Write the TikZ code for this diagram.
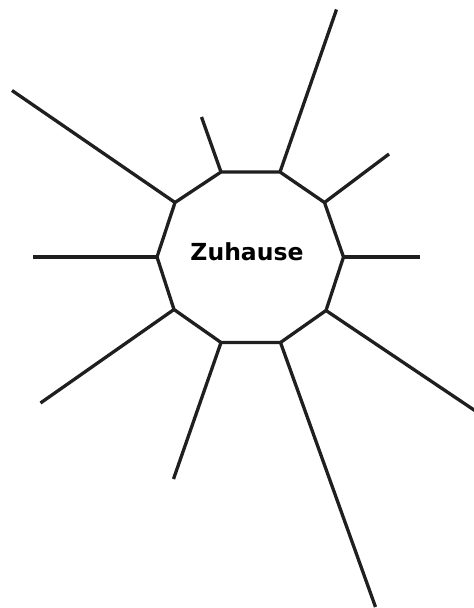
\documentclass[tikz,border=0pt]{standalone}
\usepackage{fontspec}
\setmainfont{DejaVu Sans}
\begin{document}
\begin{tikzpicture}[x=1pt,y=-1pt,
  edge/.style={draw=black!88,line width=3.3pt},
  lbl/.style={font=\fontsize{23.5}{26}\selectfont\bfseries,inner sep=0pt}]
\useasboundingbox (0,0) rectangle (474,608);
% decagon vertices
\coordinate (v1) at (221,172);
\coordinate (v2) at (280,172);
\coordinate (v3) at (324.5,202.5);
\coordinate (v4) at (343.5,257);
\coordinate (v5) at (326,310.5);
\coordinate (v6) at (280.5,342.5);
\coordinate (v7) at (221,342.5);
\coordinate (v8) at (174,309.5);
\coordinate (v9) at (157,257);
\coordinate (v10) at (175,202.5);
% outer end points
\coordinate (e1) at (201.5,117);
\coordinate (e2) at (336.5,9.5);
\coordinate (e3) at (389,154);
\coordinate (e4) at (420,257);
\coordinate (e5) at (480,414);
\coordinate (e6) at (375.5,607);
\coordinate (e7) at (173.5,479);
\coordinate (e8) at (40.5,403);
\coordinate (e9) at (33,257);
\coordinate (e10) at (12,90.5);
\draw[edge,line join=miter] (v1) -- (v2) -- (v3) -- (v4) -- (v5) -- (v6) -- (v7) -- (v8) -- (v9) -- (v10) -- cycle;
\foreach \i in {1,...,10} {\draw[edge] (v\i) -- (e\i);}
\node[lbl] (home) at (247,252) {Zuhause};
\end{tikzpicture}
\end{document}
